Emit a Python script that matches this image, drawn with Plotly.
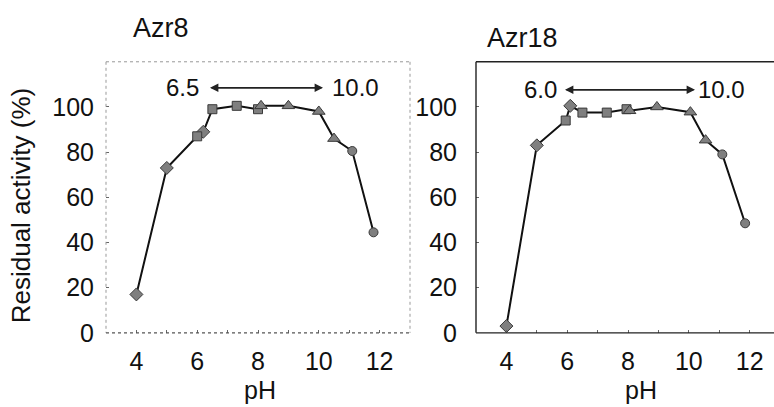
import plotly.graph_objects as go

W, H = 774, 407
# the photographed page came out vertically squeezed by about this factor
VS = 0.969

# ---- data ----
ph_ticks = [4, 6, 8, 10, 12]
act_ticks = [0, 20, 40, 60, 80, 100]

azr8_dia_x = [4, 5, 6.2]
azr8_dia_y = [17, 73, 89]
azr8_sq_x = [6.0, 6.5, 7.3, 8.0]
azr8_sq_y = [87, 99, 100.5, 99]
azr8_tri_x = [8.1, 9.0, 10.0, 10.5]
azr8_tri_y = [100.5, 100.5, 98, 86]
azr8_cir_x = [11.1, 11.8]
azr8_cir_y = [80.5, 44.5]

azr18_dia_x = [4, 5, 6.1]
azr18_dia_y = [3, 83, 100.5]
azr18_sq_x = [5.95, 6.5, 7.3, 7.95]
azr18_sq_y = [94, 97.5, 97.5, 99]
azr18_tri_x = [8.05, 8.95, 10.05, 10.55]
azr18_tri_y = [98.3, 100, 97.7, 85.3]
azr18_cir_x = [11.1, 11.85]
azr18_cir_y = [79, 48.5]

azr8_range = ("6.5", "10.0")
azr18_range = ("6.0", "10.0")

FONT = "Liberation Sans, Arial, sans-serif"
FILL = "#7f7f7f"
EDGE = "#3a3a3a"


def px(x):
    return x / W


def py(y):
    return 1 - (y / VS) / H


fig = go.Figure()


def add_panel(xa, ya, dx, dy, sx, sy, tx, ty, cx, cy):
    pts = sorted(zip(dx + sx + tx + cx, dy + sy + ty + cy))
    fig.add_trace(go.Scatter(x=[p[0] for p in pts], y=[p[1] for p in pts],
                             mode="lines", line=dict(color="#111111", width=2),
                             xaxis=xa, yaxis=ya, showlegend=False, hoverinfo="skip"))
    for xs, ys, sym, size in [(dx, dy, "diamond", 10), (sx, sy, "square", 9),
                              (tx, ty, "triangle-up", 11), (cx, cy, "circle", 9)]:
        fig.add_trace(go.Scatter(x=xs, y=ys, mode="markers",
                                 marker=dict(symbol=sym, size=size, color=FILL,
                                             line=dict(color=EDGE, width=1)),
                                 xaxis=xa, yaxis=ya, showlegend=False))


add_panel("x", "y", azr8_dia_x, azr8_dia_y, azr8_sq_x, azr8_sq_y,
          azr8_tri_x, azr8_tri_y, azr8_cir_x, azr8_cir_y)
add_panel("x2", "y2", azr18_dia_x, azr18_dia_y, azr18_sq_x, azr18_sq_y,
          azr18_tri_x, azr18_tri_y, azr18_cir_x, azr18_cir_y)

ydom = [py(334), py(62)]
common_x = dict(tickvals=ph_ticks, ticktext=[str(t) for t in ph_ticks],
                ticks="inside", ticklen=3, tickcolor="#666666",
                minor=dict(dtick=1, ticks="inside", ticklen=3, tickcolor="#666666"),
                showgrid=False, zeroline=False, showline=False,
                tickfont=dict(family=FONT, size=25, color="#111111"),
                ticklabelstandoff=11)
common_y = dict(range=[0, 120], tickvals=act_ticks, ticks="inside", ticklen=3,
                tickcolor="#666666", showgrid=False, zeroline=False, showline=False,
                tickfont=dict(family=FONT, size=25, color="#111111"))

fig.update_layout(
    width=W, height=H, margin=dict(l=0, r=0, t=0, b=0),
    paper_bgcolor="white", plot_bgcolor="white",
    xaxis=dict(domain=[px(106), px(410)], range=[3, 13], anchor="y", **common_x),
    yaxis=dict(domain=ydom, anchor="x", ticklabelstandoff=11, **common_y),
    xaxis2=dict(domain=[px(476), 1], range=[3, 12.8], anchor="y2", **common_x),
    yaxis2=dict(domain=ydom, anchor="x2", ticklabelstandoff=18, **common_y),
)

shapes = []
# left panel frame (dotted grey)
for x0, y0, x1, y1 in [(106, 62, 106, 334), (106, 62, 410, 62), (410, 62, 410, 334)]:
    shapes.append(dict(type="line", xref="paper", yref="paper",
                       x0=px(x0), y0=py(y0), x1=px(x1), y1=py(y1),
                       line=dict(color="#999999", width=1, dash="dot")))
shapes.append(dict(type="line", xref="paper", yref="paper",
                   x0=px(106), y0=py(334), x1=px(410), y1=py(334),
                   line=dict(color="#555555", width=1.2, dash="dot")))
# right panel frame (solid)
for x0, y0, x1, y1 in [(476, 62, 476, 334), (476, 62, 774, 62), (476, 334, 774, 334)]:
    shapes.append(dict(type="line", xref="paper", yref="paper",
                       x0=px(x0), y0=py(y0), x1=px(x1), y1=py(y1),
                       line=dict(color="#222222", width=1.4)))
fig.update_layout(shapes=shapes)

ann = []


def text(x, y, s, size, xanchor="center", angle=0):
    ann.append(dict(x=px(x), y=py(y), xref="paper", yref="paper", text=s,
                    showarrow=False, xanchor=xanchor, yanchor="middle",
                    textangle=angle, font=dict(family=FONT, size=size, color="#111111")))


text(131, 28, "Azr8", 27, xanchor="left")
text(485, 38, "Azr18", 27, xanchor="left")
text(260, 391, "pH", 25)
text(641, 391, "pH", 25)
text(21, 206, "Residual activity (%)", 26, angle=-90)
text(182, 88, azr8_range[0], 24)
text(355, 88, azr8_range[1], 24)
text(540, 90, azr18_range[0], 24)
text(721, 90, azr18_range[1], 24)

# double-headed arrows
for x0, x1, y in [(210, 323, 88), (565, 695, 90)]:
    for a, b in [(x0, x1), (x1, x0)]:
        ann.append(dict(x=px(b), y=py(y), ax=a - b, ay=0, xref="paper", yref="paper",
                        axref="pixel", ayref="pixel", text="", showarrow=True,
                        arrowhead=2, arrowsize=1.2, arrowwidth=1.4, arrowcolor="#222222"))

fig.update_layout(annotations=ann)
fig.write_html("out.html", config={"displayModeBar": False},
               post_script="document.body.style.margin='0';document.body.style.overflow='hidden';")
